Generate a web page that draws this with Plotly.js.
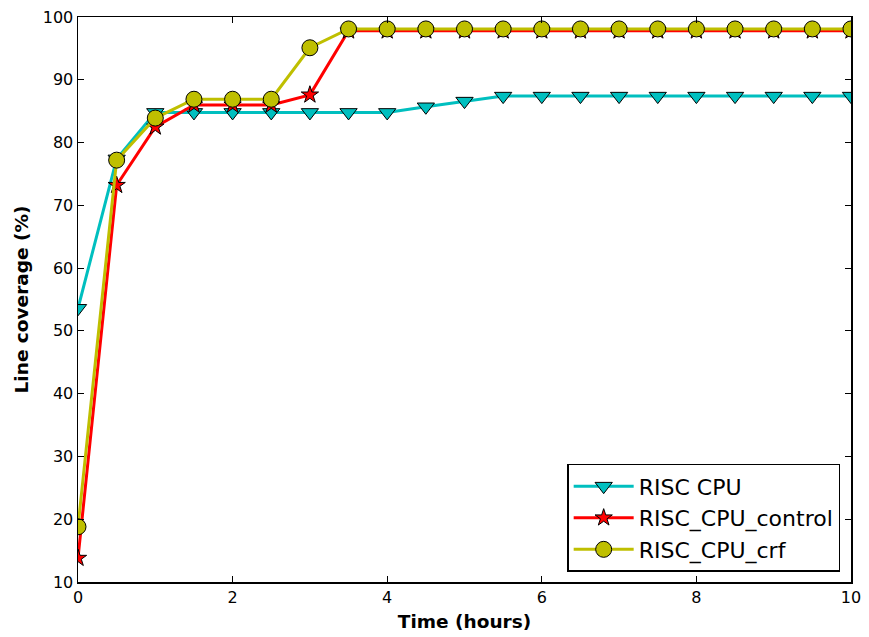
<!DOCTYPE html>
<html>
<head>
<meta charset="utf-8">
<script src="https://cdn.plot.ly/plotly-3.0.1.min.js"></script>
<style>html,body{margin:0;padding:0;background:#fff;}#chart{width:869px;height:637px;}</style>
</head>
<body>
<div id="chart"></div>
<script>
const timeHours = [0,0.5,1,1.5,2,2.5,3,3.5,4,4.5,5,5.5,6,6.5,7,7.5,8,8.5,9,9.5,10];
const riscCpu = [53.6,77.4,84.8,84.8,84.8,84.8,84.8,84.8,84.8,85.7,86.6,87.4,87.4,87.4,87.4,87.4,87.4,87.4,87.4,87.4,87.4];
const riscCpuControl = [13.8,73.2,82.5,86.0,86.0,86.0,87.6,97.8,97.8,97.8,97.8,97.8,97.8,97.8,97.8,97.8,97.8,97.8,97.8,97.8,97.8];
const riscCpuCrf = [18.8,77.2,83.9,86.9,86.9,86.9,95.1,98.1,98.1,98.1,98.1,98.1,98.1,98.1,98.1,98.1,98.1,98.1,98.1,98.1,98.1];
const seriesNames = ["RISC CPU","RISC_CPU_control","RISC_CPU_crf"];

const traces = [
  {x: timeHours, y: riscCpu, name: seriesNames[0], mode: "lines+markers",
   line: {color: "#00BFBF", width: 3},
   marker: {symbol: "triangle-down", size: 15, color: "#00BFBF", line: {color: "#000", width: 1}}},
  {x: timeHours, y: riscCpuControl, name: seriesNames[1], mode: "lines+markers",
   line: {color: "#FF0000", width: 3},
   marker: {symbol: "star", size: 13, color: "#FF0000", line: {color: "#000", width: 1}}},
  {x: timeHours, y: riscCpuCrf, name: seriesNames[2], mode: "lines+markers",
   line: {color: "#BFBF00", width: 3},
   marker: {symbol: "circle", size: 16, color: "#BFBF00", line: {color: "#000", width: 1}}}
];

const axisCommon = {
  showgrid: false, zeroline: false, showline: true, linecolor: "#000", linewidth: 1.5,
  mirror: "ticks", ticks: "inside", ticklen: 6, tickcolor: "#000", tickwidth: 1,
  tickfont: {family: "DejaVu Sans", size: 16, color: "#000"}
};

const layout = {
  width: 869, height: 637,
  margin: {l: 78, r: 18, t: 17, b: 55},
  paper_bgcolor: "#fff", plot_bgcolor: "#fff",
  font: {family: "DejaVu Sans", color: "#000"},
  showlegend: true,
  xaxis: Object.assign({}, axisCommon, {
    range: [0, 10], tickvals: [0,2,4,6,8,10],
    title: {text: "<b>Time (hours)</b>", font: {family: "DejaVu Sans", size: 18.5}, standoff: 9}
  }),
  yaxis: Object.assign({}, axisCommon, {
    range: [10, 100], tickvals: [10,20,30,40,50,60,70,80,90,100],
    title: {text: "<b>Line coverage (%)</b>", font: {family: "DejaVu Sans", size: 18.5}, standoff: 9}
  }),
  legend: {
    x: 0.986, y: 0.018, xanchor: "right", yanchor: "bottom",
    bgcolor: "#fff", bordercolor: "#000", borderwidth: 1.5,
    font: {family: "DejaVu Sans", size: 22, color: "#000"},
    itemwidth: 60, tracegroupgap: 0
  }
};

Plotly.newPlot("chart", traces, layout, {displayModeBar: false, staticPlot: true});
</script>
</body>
</html>
